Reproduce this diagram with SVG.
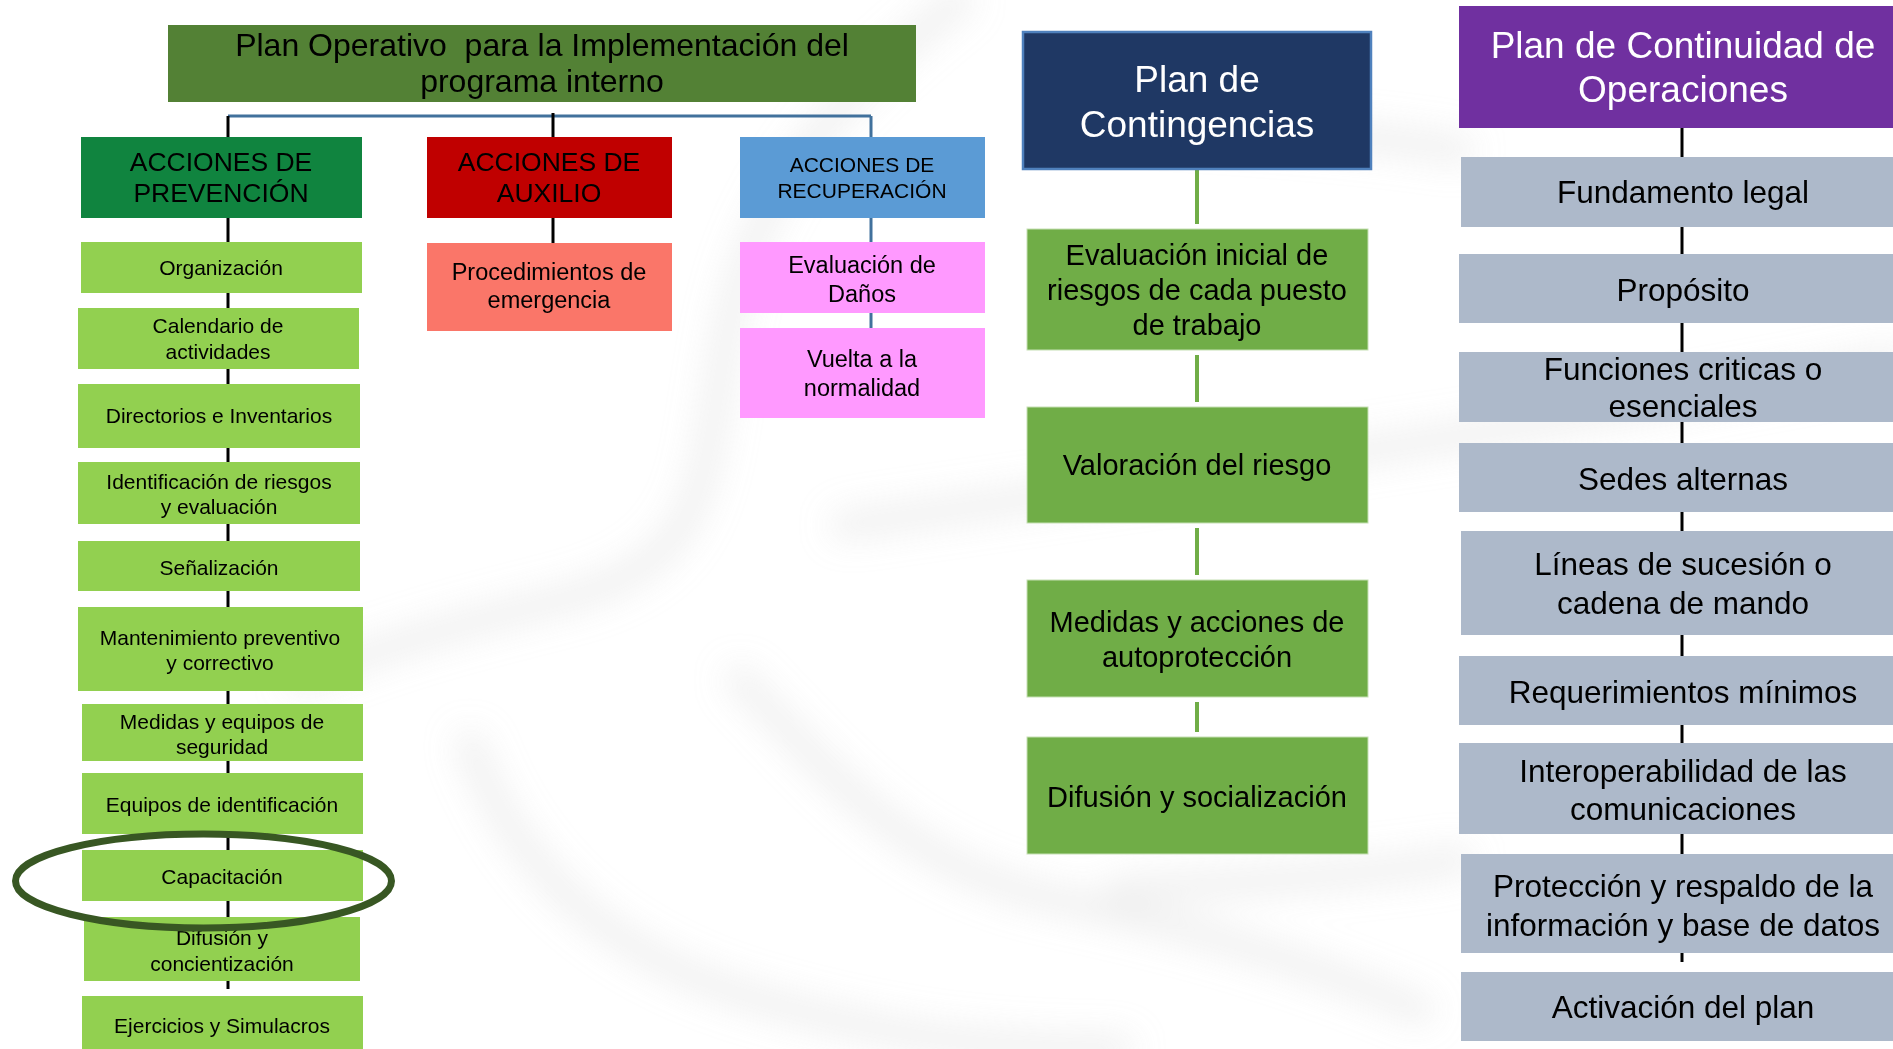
<svg xmlns="http://www.w3.org/2000/svg" width="1893" height="1049" viewBox="0 0 1893 1049">
  <defs>
    <filter id="haze" x="-20%" y="-20%" width="140%" height="140%">
      <feGaussianBlur stdDeviation="16"/>
    </filter>
    <style>
      text { font-family: "Liberation Sans", Arial, sans-serif; text-anchor: middle; fill: #000; }
      .swirl { fill: none; stroke: #cfcfcf; stroke-width: 30; stroke-linecap: round; opacity: 0.3; }
      .wire-k { stroke: #000; stroke-width: 3; fill: none; }
      .wire-b { stroke: #41719c; stroke-width: 3; fill: none; }
      .wire-g { stroke: #70ad47; stroke-width: 4; fill: none; }
      .root { fill: #538135; }
      .prev { fill: #10843f; }
      .aux { fill: #c00000; }
      .rec { fill: #5b9bd5; }
      .lime { fill: #92d050; }
      .salmon { fill: #fa7669; }
      .pink { fill: #ff99ff; }
      .navy { fill: #1f3864; stroke: #4f81bd; stroke-width: 2.5; }
      .moss { fill: #70ad47; stroke: #c5e0b4; stroke-width: 1; }
      .violet { fill: #7030a0; }
      .slate { fill: #adb9ca; }
      .t-root { font-size: 32px; white-space: pre; }
      .t-head { font-size: 26.5px; }
      .t-head-s { font-size: 21px; }
      .t-mid { font-size: 23.5px; }
      .t-left { font-size: 21px; }
      .t-big { font-size: 37px; fill: #fff; }
      .t-cont { font-size: 29px; }
      .t-right { font-size: 31.5px; }
    </style>
  </defs>

  <!-- soft background swirl -->
  <rect width="1893" height="1049" fill="#fff"/>
  <g filter="url(#haze)">
    <path class="swirl" d="M 960 0 C 860 80 760 170 730 320 C 700 470 720 560 560 600 C 460 625 400 640 300 680"/>
    <path class="swirl" d="M 470 745 C 520 880 620 960 760 1000 C 900 1040 1000 1049 1120 1049"/>
    <path class="swirl" d="M 740 680 C 820 760 900 870 1060 900 C 1200 930 1300 960 1420 1010"/>
    <path class="swirl" d="M 1893 360 C 1600 420 1300 460 845 525"/>
    <path class="swirl" d="M 1120 890 C 1300 880 1400 870 1460 860"/>
    <path class="swirl" d="M 1140 120 C 1300 130 1400 140 1460 150"/>
  </g>

  <!-- connectors -->
  <g id="connectors">
    <line class="wire-b" x1="228" y1="116" x2="871" y2="116"/>
    <line class="wire-k" x1="228" y1="116" x2="228" y2="137"/>
    <line class="wire-k" x1="553" y1="113" x2="553" y2="137"/>
    <line class="wire-b" x1="871" y1="116" x2="871" y2="137"/>
    <line class="wire-k" x1="553" y1="218" x2="553" y2="243"/>
    <line class="wire-b" x1="871" y1="218" x2="871" y2="242"/>
    <line class="wire-b" x1="871" y1="313" x2="871" y2="328"/>
    <!-- prevention column -->
    <line class="wire-k" x1="228" y1="218" x2="228" y2="242"/>
    <line class="wire-k" x1="228" y1="293" x2="228" y2="308"/>
    <line class="wire-k" x1="228" y1="369" x2="228" y2="384"/>
    <line class="wire-k" x1="228" y1="448" x2="228" y2="462"/>
    <line class="wire-k" x1="228" y1="524" x2="228" y2="541"/>
    <line class="wire-k" x1="228" y1="591" x2="228" y2="607"/>
    <line class="wire-k" x1="228" y1="691" x2="228" y2="704"/>
    <line class="wire-k" x1="228" y1="761" x2="228" y2="773"/>
    <line class="wire-k" x1="228" y1="834" x2="228" y2="850"/>
    <line class="wire-k" x1="228" y1="901" x2="228" y2="917"/>
    <line class="wire-k" x1="228" y1="981" x2="228" y2="989"/>
    <!-- contingency column -->
    <line class="wire-g" x1="1197" y1="169" x2="1197" y2="224"/>
    <line class="wire-g" x1="1197" y1="355" x2="1197" y2="402"/>
    <line class="wire-g" x1="1197" y1="528" x2="1197" y2="575"/>
    <line class="wire-g" x1="1197" y1="702" x2="1197" y2="732"/>
    <!-- continuity column -->
    <line class="wire-k" x1="1682" y1="128" x2="1682" y2="157"/>
    <line class="wire-k" x1="1682" y1="227" x2="1682" y2="254"/>
    <line class="wire-k" x1="1682" y1="323" x2="1682" y2="352"/>
    <line class="wire-k" x1="1682" y1="422" x2="1682" y2="443"/>
    <line class="wire-k" x1="1682" y1="512" x2="1682" y2="531"/>
    <line class="wire-k" x1="1682" y1="635" x2="1682" y2="656"/>
    <line class="wire-k" x1="1682" y1="725" x2="1682" y2="743"/>
    <line class="wire-k" x1="1682" y1="834" x2="1682" y2="854"/>
    <line class="wire-k" x1="1682" y1="953" x2="1682" y2="962"/>
  </g>

  <!-- operative plan tree -->
  <g id="plan-operativo">
    <rect class="root" x="168" y="25" width="748" height="77"/>
    <text class="t-root" x="542" y="56">Plan Operativo  para la Implementación del</text>
    <text class="t-root" x="542" y="92">programa interno</text>
  </g>

  <g id="acciones-prevencion">
    <rect class="prev" x="81" y="137" width="281" height="81"/>
    <text class="t-head" x="221" y="171">ACCIONES DE</text>
    <text class="t-head" x="221" y="202">PREVENCIÓN</text>
  </g>
  <g id="acciones-auxilio">
    <rect class="aux" x="427" y="137" width="245" height="81"/>
    <text class="t-head" x="549" y="171">ACCIONES DE</text>
    <text class="t-head" x="549" y="202">AUXILIO</text>
  </g>
  <g id="acciones-recuperacion">
    <rect class="rec" x="740" y="137" width="245" height="81"/>
    <text class="t-head-s" x="862" y="172">ACCIONES DE</text>
    <text class="t-head-s" x="862" y="198">RECUPERACIÓN</text>
  </g>

  <g id="procedimientos">
    <rect class="salmon" x="427" y="243" width="245" height="88"/>
    <text class="t-mid" x="549" y="280">Procedimientos de</text>
    <text class="t-mid" x="549" y="308">emergencia</text>
  </g>
  <g id="evaluacion-danos">
    <rect class="pink" x="740" y="242" width="245" height="71"/>
    <text class="t-mid" x="862" y="273">Evaluación de</text>
    <text class="t-mid" x="862" y="302">Daños</text>
  </g>
  <g id="vuelta-normalidad">
    <rect class="pink" x="740" y="328" width="245" height="90"/>
    <text class="t-mid" x="862" y="367">Vuelta a la</text>
    <text class="t-mid" x="862" y="396">normalidad</text>
  </g>

  <g id="organizacion">
    <rect class="lime" x="81" y="242" width="281" height="51"/>
    <text class="t-left" x="221" y="275">Organización</text>
  </g>
  <g id="calendario">
    <rect class="lime" x="78" y="308" width="281" height="61"/>
    <text class="t-left" x="218" y="333">Calendario de</text>
    <text class="t-left" x="218" y="359">actividades</text>
  </g>
  <g id="directorios">
    <rect class="lime" x="78" y="384" width="282" height="64"/>
    <text class="t-left" x="219" y="423">Directorios e Inventarios</text>
  </g>
  <g id="identificacion-riesgos">
    <rect class="lime" x="78" y="462" width="282" height="62"/>
    <text class="t-left" x="219" y="489">Identificación de riesgos</text>
    <text class="t-left" x="219" y="514">y evaluación</text>
  </g>
  <g id="senalizacion">
    <rect class="lime" x="78" y="541" width="282" height="50"/>
    <text class="t-left" x="219" y="575">Señalización</text>
  </g>
  <g id="mantenimiento">
    <rect class="lime" x="78" y="607" width="285" height="84"/>
    <text class="t-left" x="220" y="645">Mantenimiento preventivo</text>
    <text class="t-left" x="220" y="670">y correctivo</text>
  </g>
  <g id="medidas-equipos">
    <rect class="lime" x="82" y="704" width="281" height="57"/>
    <text class="t-left" x="222" y="729">Medidas y equipos de</text>
    <text class="t-left" x="222" y="754">seguridad</text>
  </g>
  <g id="equipos-identificacion">
    <rect class="lime" x="82" y="773" width="281" height="61"/>
    <text class="t-left" x="222" y="812">Equipos de identificación</text>
  </g>
  <g id="capacitacion">
    <rect class="lime" x="82" y="850" width="281" height="51"/>
    <text class="t-left" x="222" y="884">Capacitación</text>
  </g>
  <g id="difusion-concientizacion">
    <rect class="lime" x="84" y="917" width="276" height="64"/>
    <text class="t-left" x="222" y="945">Difusión y</text>
    <text class="t-left" x="222" y="971">concientización</text>
  </g>
  <g id="ejercicios">
    <rect class="lime" x="82" y="996" width="281" height="60"/>
    <text class="t-left" x="222" y="1033">Ejercicios y Simulacros</text>
  </g>

  <!-- highlight around the training item -->
  <ellipse id="resalte" cx="203.5" cy="881" rx="188" ry="47" fill="none" stroke="#385723" stroke-width="7"/>

  <!-- contingency plan -->
  <g id="plan-contingencias">
    <rect class="navy" x="1023" y="32" width="348" height="137"/>
    <text class="t-big" x="1197" y="92">Plan de</text>
    <text class="t-big" x="1197" y="137">Contingencias</text>
  </g>
  <g id="evaluacion-inicial">
    <rect class="moss" x="1027" y="229" width="341" height="121"/>
    <text class="t-cont" x="1197" y="265">Evaluación inicial de</text>
    <text class="t-cont" x="1197" y="300">riesgos de cada puesto</text>
    <text class="t-cont" x="1197" y="335">de trabajo</text>
  </g>
  <g id="valoracion">
    <rect class="moss" x="1027" y="407" width="341" height="116"/>
    <text class="t-cont" x="1197" y="475">Valoración del riesgo</text>
  </g>
  <g id="medidas-autoproteccion">
    <rect class="moss" x="1027" y="580" width="341" height="117"/>
    <text class="t-cont" x="1197" y="632">Medidas y acciones de</text>
    <text class="t-cont" x="1197" y="667">autoprotección</text>
  </g>
  <g id="difusion-socializacion">
    <rect class="moss" x="1027" y="737" width="341" height="117"/>
    <text class="t-cont" x="1197" y="807">Difusión y socialización</text>
  </g>

  <!-- continuity of operations plan -->
  <g id="plan-continuidad">
    <rect class="violet" x="1459" y="6" width="440" height="122"/>
    <text class="t-big" x="1683" y="58">Plan de Continuidad de</text>
    <text class="t-big" x="1683" y="102">Operaciones</text>
  </g>
  <g id="fundamento-legal">
    <rect class="slate" x="1461" y="157" width="440" height="70"/>
    <text class="t-right" x="1683" y="203">Fundamento legal</text>
  </g>
  <g id="proposito">
    <rect class="slate" x="1459" y="254" width="440" height="69"/>
    <text class="t-right" x="1683" y="301">Propósito</text>
  </g>
  <g id="funciones-criticas">
    <rect class="slate" x="1459" y="352" width="440" height="70"/>
    <text class="t-right" x="1683" y="380">Funciones criticas o</text>
    <text class="t-right" x="1683" y="417">esenciales</text>
  </g>
  <g id="sedes-alternas">
    <rect class="slate" x="1459" y="443" width="440" height="69"/>
    <text class="t-right" x="1683" y="490">Sedes alternas</text>
  </g>
  <g id="lineas-sucesion">
    <rect class="slate" x="1461" y="531" width="440" height="104"/>
    <text class="t-right" x="1683" y="575">Líneas de sucesión o</text>
    <text class="t-right" x="1683" y="614">cadena de mando</text>
  </g>
  <g id="requerimientos">
    <rect class="slate" x="1459" y="656" width="440" height="69"/>
    <text class="t-right" x="1683" y="703">Requerimientos mínimos</text>
  </g>
  <g id="interoperabilidad">
    <rect class="slate" x="1459" y="743" width="440" height="91"/>
    <text class="t-right" x="1683" y="782">Interoperabilidad de las</text>
    <text class="t-right" x="1683" y="820">comunicaciones</text>
  </g>
  <g id="proteccion-respaldo">
    <rect class="slate" x="1461" y="854" width="440" height="99"/>
    <text class="t-right" x="1683" y="897">Protección y respaldo de la</text>
    <text class="t-right" x="1683" y="936">información y base de datos</text>
  </g>
  <g id="activacion">
    <rect class="slate" x="1461" y="972" width="440" height="69"/>
    <text class="t-right" x="1683" y="1018">Activación del plan</text>
  </g>
</svg>
